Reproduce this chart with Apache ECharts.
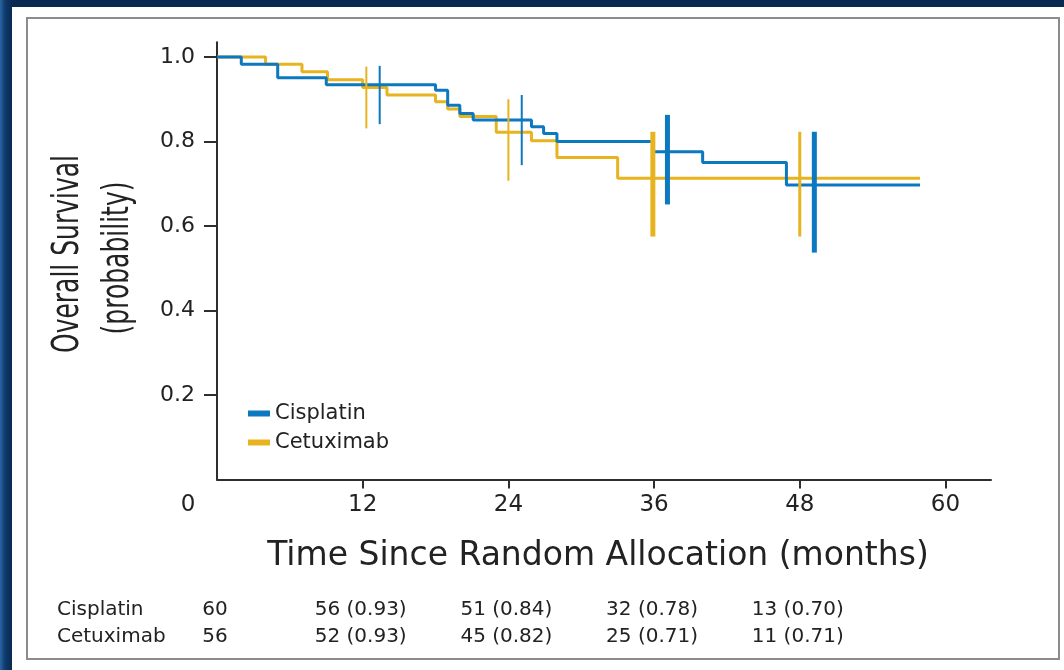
<!DOCTYPE html>
<html><head><meta charset="utf-8">
<script src="https://cdn.jsdelivr.net/npm/echarts@6/dist/echarts.min.js"></script>
<style>
html,body{margin:0;padding:0;width:1064px;height:670px;overflow:hidden;}
body{background:linear-gradient(90deg,#2a66a6 0px,#0f3a6c 5px,#082a52 12px,#082a52 100%);}
#panel{position:absolute;left:12px;top:7px;width:1052px;height:663px;background:#fff;}
#frame{position:absolute;left:26px;top:17px;width:1030px;height:639px;border:2px solid #8c8c8c;}
#chart{position:absolute;left:0;top:0;width:1064px;height:670px;}
</style></head>
<body><div id="panel"></div><div id="frame"></div><div id="chart"></div>
<script>
// ---- data ----
const cisMonths = [0, 2.0, 5.0, 9.0, 18.0, 19.0, 20.0, 21.1, 25.9, 26.9, 28.0, 35.9, 40.0, 46.9, 57.9];
const cisSurv   = [1.0, 0.983, 0.951, 0.934, 0.921, 0.886, 0.866, 0.851, 0.835, 0.819, 0.800, 0.776, 0.750, 0.697, 0.697];
const cetMonths = [0, 4.0, 7.0, 9.1, 12.0, 14.0, 18.0, 19.0, 20.0, 23.0, 25.9, 28.0, 33.0, 57.9];
const cetSurv   = [1.0, 0.983, 0.965, 0.946, 0.928, 0.910, 0.894, 0.877, 0.859, 0.822, 0.802, 0.762, 0.713, 0.713];

const cisCiMonths = [13.4, 25.1, 37.1, 49.2];
const cisCiLow    = [0.841, 0.744, 0.651, 0.537];
const cisCiHigh   = [0.979, 0.910, 0.863, 0.823];
const cetCiMonths = [12.3, 24.0, 35.9, 48.0];
const cetCiLow    = [0.831, 0.707, 0.575, 0.575];
const cetCiHigh   = [0.977, 0.900, 0.823, 0.823];

const xTicks = [12, 24, 36, 48, 60];
const yTicks = [0.2, 0.4, 0.6, 0.8, 1.0];

const tableMonths = [0, 12, 24, 36, 48];
const cisAtRisk = ['60', '56 (0.93)', '51 (0.84)', '32 (0.78)', '13 (0.70)'];
const cetAtRisk = ['56', '52 (0.93)', '45 (0.82)', '25 (0.71)', '11 (0.71)'];

const seriesNames = ['Cisplatin', 'Cetuximab'];
const xTitle = 'Time Since Random Allocation (months)';
const yTitle1 = 'Overall Survival';
const yTitle2 = '(probability)';

// ---- styles ----
const BLUE = '#0b78bf';
const YELLOW = '#e7b41f';
const TXT = '#222222';
const AX = '#2e2e2e';
const FONT = 'DejaVu Sans';
const cisCiWidth = [2, 2, 5, 5];
const cetCiWidth = [2, 2, 5, 3];

const zip = (a, b) => a.map((v, i) => [v, b[i]]);
const ciData = (m, lo, hi) => m.map((v, i) => [v, lo[i], hi[i]]);

function ciRender(color, widths) {
  return function (params, api) {
    const p1 = api.coord([api.value(0), api.value(1)]);
    const p2 = api.coord([api.value(0), api.value(2)]);
    return {
      type: 'line',
      shape: { x1: p1[0], y1: p1[1], x2: p2[0], y2: p2[1] },
      style: { stroke: color, lineWidth: widths[params.dataIndex] }
    };
  };
}

const chart = echarts.init(document.getElementById('chart'), null, { renderer: 'canvas' });

const option = {
  backgroundColor: 'transparent',
  animation: false,
  textStyle: { fontFamily: FONT },
  grid: { left: 217, top: 42.2, width: 774, height: 437.3 },
  xAxis: {
    type: 'value', min: 0, max: 63.75, interval: 12,
    axisLine: { show: true, onZero: false, lineStyle: { color: AX, width: 2 } },
    axisTick: { show: true, length: 9, customValues: xTicks, lineStyle: { color: AX, width: 2 } },
    axisLabel: { customValues: xTicks, fontSize: 23, margin: 14, color: TXT, fontFamily: FONT },
    splitLine: { show: false }
  },
  yAxis: {
    type: 'value', min: 0, max: 1.035, interval: 0.2,
    axisLine: { show: true, lineStyle: { color: AX, width: 2 } },
    axisTick: { show: true, length: 13, customValues: yTicks, lineStyle: { color: AX, width: 2 } },
    axisLabel: { customValues: yTicks, fontSize: 22, margin: 22, color: TXT, fontFamily: FONT,
                 formatter: v => v.toFixed(1) },
    splitLine: { show: false }
  },
  legend: {
    data: seriesNames,
    orient: 'vertical', left: 243, top: 398,
    itemWidth: 22, itemHeight: 6, itemGap: 8, icon: 'rect',
    textStyle: { fontSize: 21, color: TXT, fontFamily: FONT }
  },
  series: [
    { name: seriesNames[1], type: 'line', step: 'end', data: zip(cetMonths, cetSurv),
      symbol: 'none', color: YELLOW, lineStyle: { color: YELLOW, width: 3 }, z: 2 },
    { name: seriesNames[0], type: 'line', step: 'end', data: zip(cisMonths, cisSurv),
      symbol: 'none', color: BLUE, lineStyle: { color: BLUE, width: 3 }, z: 3 },
    { name: 'Cetuximab CI', type: 'custom', renderItem: ciRender(YELLOW, cetCiWidth),
      data: ciData(cetCiMonths, cetCiLow, cetCiHigh), encode: { x: 0, y: [1, 2] }, z: 4 },
    { name: 'Cisplatin CI', type: 'custom', renderItem: ciRender(BLUE, cisCiWidth),
      data: ciData(cisCiMonths, cisCiLow, cisCiHigh), encode: { x: 0, y: [1, 2] }, z: 5 }
  ]
};
chart.setOption(option);

// ---- titles, origin label and at-risk table ----
const g = [];
g.push({ type: 'text', x: 598, y: 556, style: { text: xTitle, font: '33px "DejaVu Sans"', fill: TXT,
         textAlign: 'center', textVerticalAlign: 'middle' } });
g.push({ type: 'text', x: 68, y: 254, rotation: Math.PI / 2, scaleY: 1.5,
         style: { text: yTitle1, font: '25px "DejaVu Sans"', fill: TXT, textAlign: 'center', textVerticalAlign: 'middle' } });
g.push({ type: 'text', x: 118, y: 258, rotation: Math.PI / 2, scaleY: 1.5,
         style: { text: yTitle2, font: '25px "DejaVu Sans"', fill: TXT, textAlign: 'center', textVerticalAlign: 'middle' } });
g.push({ type: 'text', x: 188, y: 505, style: { text: '0', font: '23px "DejaVu Sans"', fill: TXT,
         textAlign: 'center', textVerticalAlign: 'middle' } });

const rows = [[seriesNames[0], cisAtRisk, 610], [seriesNames[1], cetAtRisk, 637]];
rows.forEach(([label, vals, y]) => {
  g.push({ type: 'text', x: 57, y: y, style: { text: label, font: '20px "DejaVu Sans"', fill: TXT,
           textAlign: 'left', textVerticalAlign: 'middle' } });
  vals.forEach((t, i) => {
    const px = chart.convertToPixel({ xAxisIndex: 0 }, tableMonths[i]);
    g.push({ type: 'text', x: px - 2, y: y, style: { text: t, font: '20px "DejaVu Sans"', fill: TXT,
             textAlign: 'center', textVerticalAlign: 'middle' } });
  });
});
chart.setOption({ graphic: { elements: g } });
</script></body></html>
